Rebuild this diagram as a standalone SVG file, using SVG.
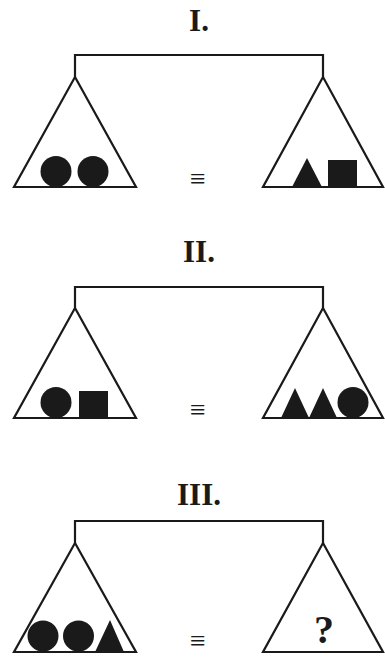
<svg xmlns="http://www.w3.org/2000/svg" width="385" height="657" viewBox="0 0 385 657">
<style>
.ln{fill:none;stroke:#1a1a1a;stroke-width:2.2;stroke-linejoin:miter}
.sh{fill:#1a1a1a;stroke:none}
.tt{font-family:"Liberation Serif","Times New Roman",serif;font-weight:bold;font-size:31px;fill:#1a1a1a;text-anchor:middle}
.eq{font-family:"Liberation Serif","DejaVu Serif",serif;font-size:28px;fill:#1a1a1a;text-anchor:middle}
.q{font-family:"Liberation Serif","Times New Roman",serif;font-weight:bold;font-size:40px;fill:#1a1a1a;text-anchor:middle}
</style>

<g id="connectors">
<path class="ln" d="M75,77 V55 H323 V77"/>
<path class="ln" d="M75,308 V287 H323 V308"/>
<path class="ln" d="M75,543 V521 H323 V543"/>
</g>

<g id="panel-I">
<text class="tt" x="199" y="31">I.</text>
<g id="I-left">
<path class="ln" d="M75,77 L14,187 L136,187 Z"/>
<circle class="sh" cx="56" cy="171.5" r="15.5"/>
<circle class="sh" cx="93" cy="171.5" r="15.5"/>
</g>
<text class="eq" x="198" y="188">≡</text>
<g id="I-right">
<path class="ln" d="M323,77 L263,187 L383,187 Z"/>
<path class="sh" d="M307,158 L292,187 L322,187 Z"/>
<rect class="sh" x="328" y="160" width="29" height="27"/>
</g>
</g>

<g id="panel-II">
<text class="tt" x="199" y="262">II.</text>
<g id="II-left">
<path class="ln" d="M75,308 L14,418 L136,418 Z"/>
<circle class="sh" cx="56" cy="402.5" r="15.5"/>
<rect class="sh" x="79" y="391" width="29" height="27"/>
</g>
<text class="eq" x="198" y="419">≡</text>
<g id="II-right">
<path class="ln" d="M323,308 L263,418 L383,418 Z"/>
<path class="sh" d="M295,388 L281,418 L309,418 Z"/>
<path class="sh" d="M323,388 L309,418 L337,418 Z"/>
<circle class="sh" cx="353" cy="402.5" r="15.5"/>
</g>
</g>

<g id="panel-III">
<text class="tt" x="199" y="505">III.</text>
<g id="III-left">
<path class="ln" d="M75,543 L14,652 L136,652 Z"/>
<circle class="sh" cx="43" cy="636" r="15.5"/>
<circle class="sh" cx="78.5" cy="636" r="15.5"/>
<path class="sh" d="M110,620 L95,652 L124,652 Z"/>
</g>
<text class="eq" x="198" y="650">≡</text>
<g id="III-right">
<path class="ln" d="M323,543 L263,652 L383,652 Z"/>
<text class="q" x="324" y="643">?</text>
</g>
</g>
</svg>
